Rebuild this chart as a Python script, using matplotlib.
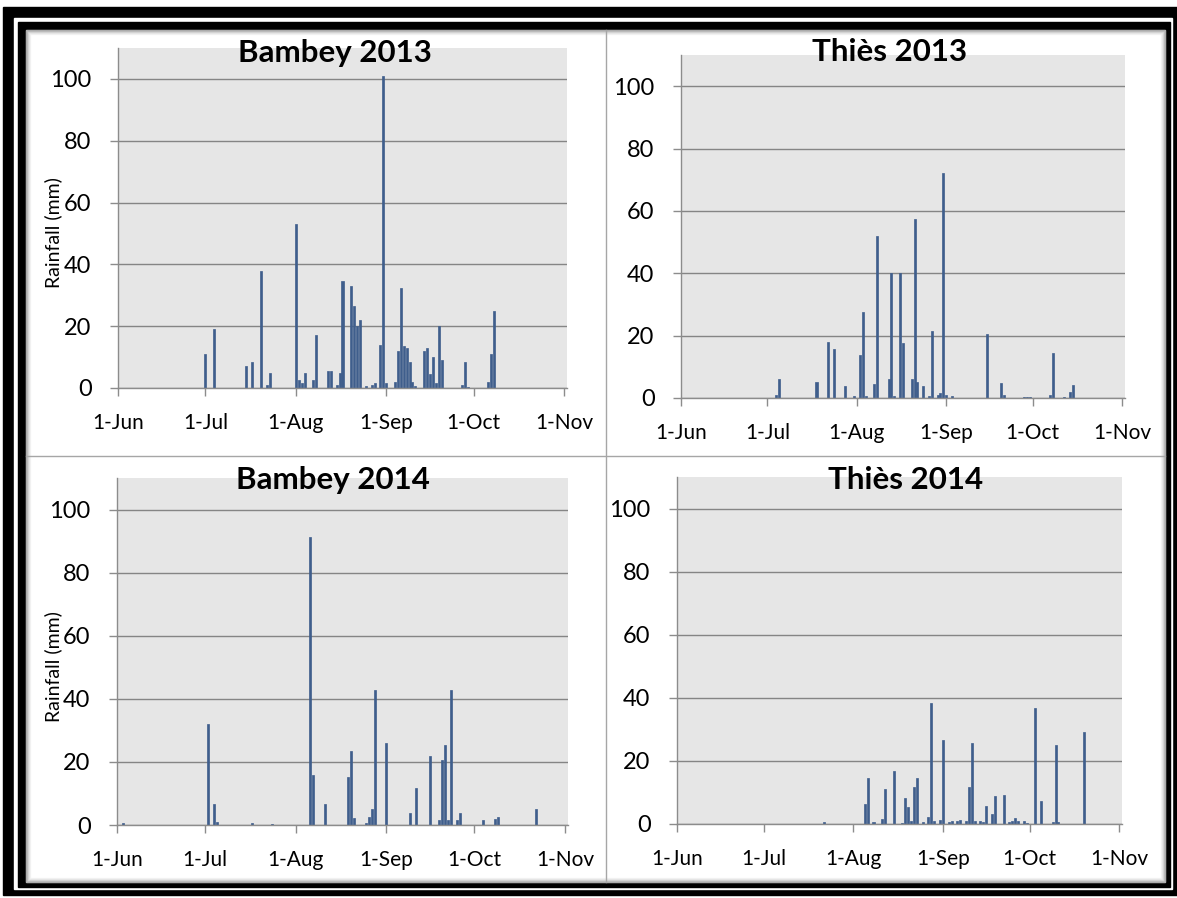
import datetime as dt
import matplotlib
matplotlib.use("Agg")
import matplotlib.pyplot as plt
from matplotlib.patches import Rectangle
from matplotlib.lines import Line2D

plt.rcParams['font.family'] = ['Lato', 'DejaVu Sans']

# daily rainfall (mm), dates as MM-DD
bambey13_days = ["07-01", "07-04", "07-15", "07-17", "07-20", "07-22", "07-23",
                 "08-01", "08-02", "08-03", "08-04", "08-07", "08-08", "08-12", "08-13",
                 "08-15", "08-16", "08-17", "08-20", "08-21", "08-22", "08-23", "08-25",
                 "08-27", "08-28", "08-30", "08-31", "09-01", "09-04", "09-05", "09-06",
                 "09-07", "09-08", "09-09", "09-10", "09-11", "09-14", "09-15", "09-16",
                 "09-17", "09-18", "09-19", "09-20", "09-27", "09-28", "09-29",
                 "10-06", "10-07", "10-08"]
bambey13_mm = [11, 19, 7, 8.5, 38, 1, 5,
               53, 2.5, 1.5, 5, 2.5, 17, 5.5, 5.5,
               1, 5, 34.5, 33, 26.5, 20, 22, 0.5,
               1, 1.5, 14, 101, 1.5, 2, 12, 32.5,
               13.5, 13, 8.5, 2, 0.5, 12, 13, 4.5,
               10, 1.5, 20, 9, 1, 8.5, 0.3,
               2, 11, 25]

thies13_days = ["07-04", "07-05", "07-18", "07-22", "07-24", "07-28", "07-31",
                "08-02", "08-03", "08-04", "08-07", "08-08", "08-12", "08-13", "08-14",
                "08-16", "08-17", "08-20", "08-21", "08-22", "08-24", "08-26", "08-27",
                "08-29", "08-30", "08-31", "09-01", "09-03", "09-15", "09-20", "09-21",
                "09-28", "09-29", "09-30", "10-07", "10-08", "10-12", "10-14", "10-15"]
thies13_mm = [1, 6, 5, 17.8, 15.8, 3.9, 0.5,
              13.9, 27.7, 0.5, 4.5, 51.8, 6.2, 40.2, 0.5,
              40.2, 17.6, 6.2, 57.4, 5, 3.9, 0.5, 21.5,
              1, 1.5, 72, 1, 0.5, 20.5, 4.8, 1,
              0.4, 0.4, 0.4, 1, 14.4, 0.4, 2, 4.2]

bambey14_days = ["06-03", "07-02", "07-04", "07-05", "07-17", "07-24",
                 "08-06", "08-07", "08-11", "08-19", "08-20", "08-21", "08-25", "08-26",
                 "08-27", "08-28", "09-01", "09-09", "09-11", "09-16", "09-19", "09-20",
                 "09-21", "09-22", "09-23", "09-25", "09-26", "10-04", "10-08", "10-09",
                 "10-22"]
bambey14_mm = [0.5, 32, 6.5, 1, 0.7, 0.3,
               91.3, 15.8, 6.5, 15.3, 23.4, 2.1, 0.5, 2.6,
               5, 42.8, 26.1, 3.7, 11.6, 21.9, 1.5, 20.6,
               25.3, 1.5, 42.8, 1.5, 3.9, 1.5, 1.9, 2.6,
               5]

thies14_days = ["07-22", "08-05", "08-06", "08-08", "08-11", "08-12", "08-15", "08-18",
                "08-19", "08-20", "08-21", "08-22", "08-23", "08-25", "08-27", "08-28",
                "08-29", "08-31", "09-01", "09-03", "09-04", "09-06", "09-07", "09-09",
                "09-10", "09-11", "09-12", "09-14", "09-15", "09-16", "09-18", "09-19",
                "09-22", "09-24", "09-25", "09-26", "09-27", "09-29", "09-30",
                "10-03", "10-05", "10-09", "10-10", "10-11", "10-20"]
thies14_mm = [0.7, 6.2, 14.5, 0.5, 1.5, 11.1, 16.8, 0.3,
              8.4, 5.3, 1, 11.8, 14.5, 0.5, 2.3, 38.4,
              1, 1.2, 26.6, 0.5, 1, 1, 1.3, 1,
              11.8, 25.6, 1, 1, 0.5, 5.8, 3.1, 8.9,
              9.2, 0.5, 1, 1.8, 1, 1, 0.4,
              36.8, 7.3, 0.5, 25, 0.5, 29.2]

month_ticks = ["06-01", "07-01", "08-01", "09-01", "10-01", "11-01"]
month_labels = ["1-Jun", "1-Jul", "1-Aug", "1-Sep", "1-Oct", "1-Nov"]
y_ticks = [0, 20, 40, 60, 80, 100]

W, H = 1177, 898
BAR_COLOR = '#3f5e8c'
AXIS_GREY = '#8c8c8c'


def to_dates(year, days):
    return [dt.datetime.strptime(f"{year}-{d}", "%Y-%m-%d") for d in days]


def px_rect(left, top, right, bottom):
    # pixel box (top-left origin) -> figure fraction [x0, y0, w, h]
    return [left / W, 1 - bottom / H, (right - left) / W, (bottom - top) / H]


fig = plt.figure(figsize=(W / 100, H / 100), dpi=100)

# double black frame around the whole figure (drawn underneath the axes)
frame = [((3, 7, 1177, 895), 'black'), ((14, 18, 1172, 889), 'white'),
         ((18, 22, 1170, 887), 'black'), ((26, 30, 1165, 882), 'white')]
for k, ((l, t, r, b), c) in enumerate(frame):
    fig.patches.append(Rectangle((l / W, 1 - b / H), (r - l) / W, (b - t) / H,
                                 transform=fig.transFigure, color=c, zorder=-10 + k))
# soft inner shadow
for i, a in enumerate([0.3, 0.2, 0.12, 0.07, 0.04]):
    fig.patches.append(Rectangle(((26 + i) / W, 1 - (882 - i) / H), (1139 - 2 * i) / W,
                                 (852 - 2 * i) / H, transform=fig.transFigure,
                                 fill=False, edgecolor='black', alpha=a, lw=1, zorder=-5))

# panel dividers
fig.lines.append(Line2D([605.5 / W, 605.5 / W], [1 - 882 / H, 1 - 30 / H],
                        transform=fig.transFigure, color='#a6a6a6', lw=1, zorder=-4))
fig.lines.append(Line2D([26 / W, 1165 / W], [1 - 456.5 / H, 1 - 456.5 / H],
                        transform=fig.transFigure, color='#a6a6a6', lw=1, zorder=-4))

panels = [
    ("Bambey 2013", 2013, bambey13_days, bambey13_mm, (118, 48, 567, 388), (335, 62), True),
    ("Thiès 2013", 2013, thies13_days, thies13_mm, (681, 55, 1125, 398), (890, 61), False),
    ("Bambey 2014", 2014, bambey14_days, bambey14_mm, (117, 478, 568, 825), (333, 489), True),
    ("Thiès 2014", 2014, thies14_days, thies14_mm, (677, 477, 1122, 824), (906, 489), False),
]

for title, year, days, mm, box, title_xy, show_ylabel in panels:
    ax = fig.add_axes(px_rect(*box))
    ax.set_facecolor('#e6e6e6')
    ax.bar(to_dates(year, days), mm, width=0.7, color=BAR_COLOR,
           edgecolor=BAR_COLOR, linewidth=0.5, zorder=3)

    ax.set_ylim(0, 110)
    ax.set_yticks(y_ticks)
    ax.set_xlim(dt.datetime(year, 6, 1), dt.datetime(year, 11, 2))
    ax.set_xticks(to_dates(year, month_ticks))
    ax.set_xticklabels(month_labels)

    ax.grid(axis='y', color='#858585', lw=1, zorder=1)
    for s in ['top', 'right']:
        ax.spines[s].set_visible(False)
    for s in ['left', 'bottom']:
        ax.spines[s].set_color(AXIS_GREY)
        ax.spines[s].set_linewidth(1)
        ax.spines[s].set_zorder(4)
    ax.tick_params(axis='y', length=6, width=1, color=AXIS_GREY, pad=13, labelsize=17)
    ax.tick_params(axis='x', length=6, width=1, color=AXIS_GREY, pad=12, labelsize=15)

    fig.text(title_xy[0] / W, 1 - title_xy[1] / H, title, ha='center', va='baseline',
             fontsize=22.5, fontweight='bold')
    if show_ylabel:
        yc = (box[1] + box[3]) / 2 + 15
        fig.text(53 / W, 1 - yc / H, "Rainfall (mm)", rotation=90, ha='center',
                 va='center', fontsize=14)

fig.savefig("out.png", dpi=100)
